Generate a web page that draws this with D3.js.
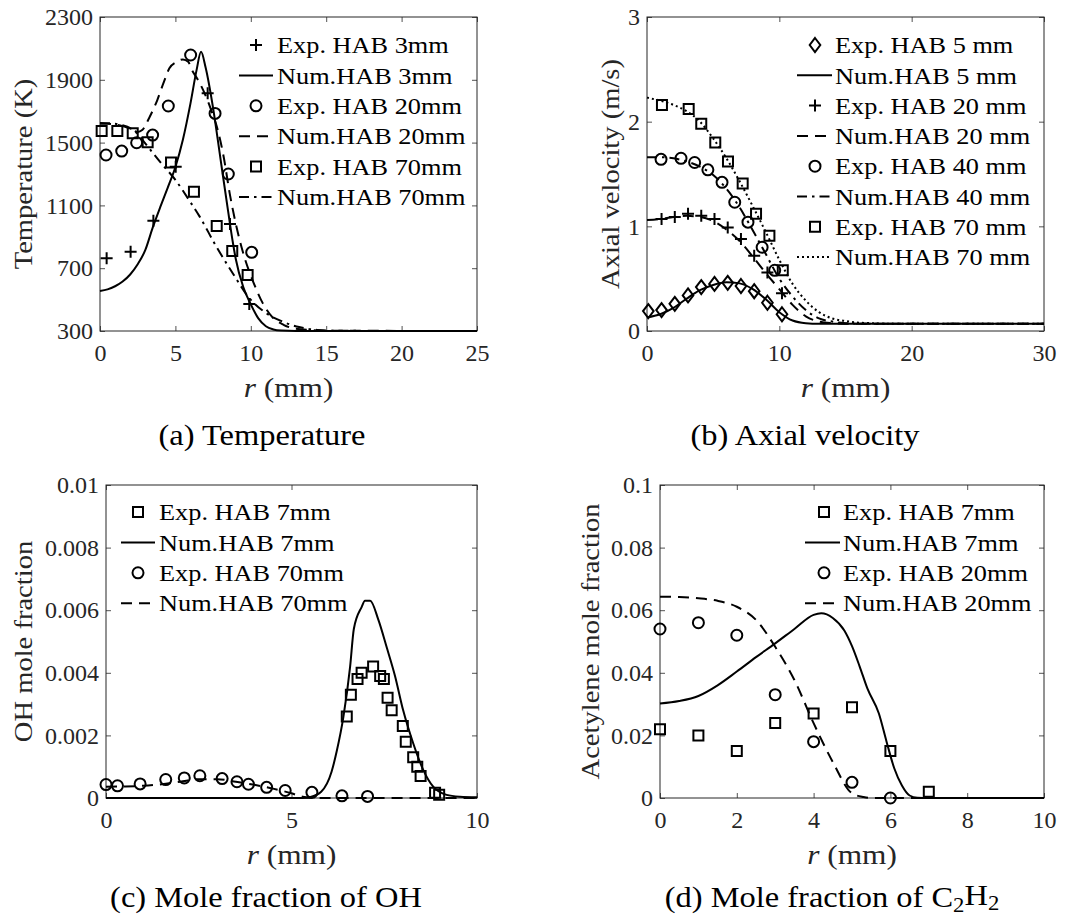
<!DOCTYPE html>
<html>
<head>
<meta charset="utf-8">
<script src="https://cdn.jsdelivr.net/npm/d3@7"></script>
<style>
  body { margin: 0; background: #fff; }
  svg { display: block; }
  text { font-family: "Liberation Serif", "Times New Roman", serif; }
</style>
</head>
<body>
<svg id="fig" width="1077" height="919"></svg>
<script>
// ---------- (a) temperature ----------
const tempExp3R = [0.44, 2.03, 3.54, 5.02, 7.14, 8.62, 9.9];
const tempExp3T = [763, 805, 1002, 1346, 1814, 981, 472];
const tempExp20R = [0.4, 1.44, 2.43, 3.49, 4.53, 6.01, 7.63, 8.51, 10.06];
const tempExp20T = [1421, 1446, 1499, 1548, 1733, 2058, 1686, 1300, 801];
const tempExp70R = [0.11, 1.15, 2.17, 3.16, 4.71, 6.23, 7.74, 8.77, 9.79];
const tempExp70T = [1574, 1574, 1559, 1502, 1374, 1187, 969, 810, 657];
const tempNum3R = [0, 0.5, 1, 1.5, 2, 2.5, 3, 3.5, 4, 4.5, 5, 5.5, 6, 6.4, 6.7, 7, 7.5, 8, 8.5, 8.8, 9, 9.5, 10, 10.5, 11, 11.5, 12, 13, 25];
const tempNum3T = [555, 565, 585, 615, 660, 725, 815, 960, 1090, 1215, 1345, 1520, 1750, 1960, 2078, 1980, 1720, 1390, 1060, 870, 760, 580, 470, 380, 330, 310, 303, 300, 300];
const tempNum20R = [0, 0.5, 1, 1.5, 2, 2.5, 2.8, 3.3, 3.8, 4.2, 4.6, 5.1, 5.5, 5.85, 6.1, 6.5, 7, 7.4, 7.75, 8.2, 8.6, 9.05, 9.5, 10.2, 10.8, 11.4, 12.2, 13.3, 15, 25];
const tempNum20T = [1620, 1620, 1615, 1605, 1588, 1568, 1580, 1665, 1771, 1877, 1973, 2015, 2030, 2015, 1962, 1899, 1800, 1700, 1601, 1410, 1177, 964, 795, 604, 476, 391, 338, 311, 302, 300];
const tempNum70R = [0, 0.5, 1, 1.5, 2, 2.5, 3, 4, 5, 6, 6.6, 7.7, 8.8, 9.9, 11, 12.1, 13.2, 14.4, 16, 25];
const tempNum70T = [1625, 1624, 1620, 1610, 1592, 1555, 1495, 1375, 1262, 1120, 1030, 840, 668, 510, 415, 360, 325, 307, 301, 300];
const tempXTicks = [0, 5, 10, 15, 20, 25];
const tempYTicks = [300, 700, 1100, 1500, 1900, 2300];
const tempLegend = ['Exp. HAB 3mm', 'Num.HAB 3mm', 'Exp. HAB 20mm', 'Num.HAB 20mm', 'Exp. HAB 70mm', 'Num.HAB 70mm'];

// ---------- (b) axial velocity ----------
const velExp5R = [0.1, 1.1, 2.1, 3.1, 4.1, 5.1, 6.1, 7.1, 8.1, 9.1, 10.2];
const velExp5V = [0.19, 0.20, 0.26, 0.34, 0.42, 0.45, 0.46, 0.43, 0.38, 0.27, 0.16];
const velExp20R = [1.1, 2.1, 3.1, 4.1, 5.1, 6.1, 7.1, 8.1, 9.1, 10.2];
const velExp20V = [1.07, 1.09, 1.12, 1.10, 1.07, 0.99, 0.88, 0.72, 0.56, 0.36];
const velExp40R = [1.06, 2.57, 3.6, 4.6, 5.67, 6.63, 7.63, 8.7, 9.65];
const velExp40V = [1.64, 1.65, 1.61, 1.54, 1.42, 1.23, 1.04, 0.80, 0.58];
const velExp70R = [1.13, 3.15, 4.1, 5.16, 6.12, 7.23, 8.24, 9.25, 10.26];
const velExp70V = [2.16, 2.12, 1.98, 1.80, 1.62, 1.41, 1.12, 0.91, 0.58];
const velNum5R = [0, 1, 2, 3, 4, 5, 6, 7, 8, 9, 10, 11, 12, 13, 30];
const velNum5V = [0.13, 0.16, 0.22, 0.31, 0.39, 0.44, 0.465, 0.455, 0.40, 0.30, 0.18, 0.10, 0.075, 0.07, 0.07];
const velNum20R = [0, 1, 2, 3, 4, 5, 6, 7, 8, 9, 10, 11, 12, 13, 14, 15, 30];
const velNum20V = [1.06, 1.07, 1.09, 1.10, 1.09, 1.05, 0.97, 0.86, 0.71, 0.55, 0.40, 0.25, 0.14, 0.09, 0.075, 0.07, 0.07];
const velNum40R = [0, 1, 2, 3, 4, 5, 6, 7, 8, 9, 10, 11, 12, 13, 14, 15, 16, 30];
const velNum40V = [1.66, 1.66, 1.65, 1.62, 1.57, 1.49, 1.36, 1.18, 0.96, 0.73, 0.50, 0.33, 0.20, 0.12, 0.09, 0.075, 0.07, 0.07];
const velNum70R = [0, 1, 2, 3, 4, 5, 6, 7, 8, 9, 10, 11, 12, 13, 14, 15, 16, 17, 18, 30];
const velNum70V = [2.23, 2.20, 2.16, 2.10, 2.00, 1.84, 1.65, 1.43, 1.19, 0.94, 0.68, 0.45, 0.29, 0.18, 0.12, 0.095, 0.08, 0.075, 0.07, 0.07];
const velXTicks = [0, 10, 20, 30];
const velYTicks = [0, 1, 2, 3];
const velLegend = ['Exp. HAB 5 mm', 'Num.HAB 5 mm', 'Exp. HAB 20 mm', 'Num.HAB 20 mm', 'Exp. HAB 40 mm', 'Num.HAB 40 mm', 'Exp. HAB 70 mm', 'Num.HAB 70 mm'];

// ---------- (c) OH ----------
const ohExp7R = [6.49, 6.6, 6.78, 6.89, 7.2, 7.39, 7.49, 7.59, 7.7, 8.0, 8.08, 8.28, 8.39, 8.48, 8.87, 8.98];
const ohExp7Y = [0.0026, 0.0033, 0.0038, 0.0040, 0.0042, 0.0039, 0.0038, 0.0032, 0.0028, 0.0023, 0.0018, 0.0013, 0.0010, 0.0007, 0.00017, 0.0001];
const ohExp70R = [0, 0.31, 0.92, 1.61, 2.11, 2.53, 3.13, 3.53, 3.84, 4.33, 4.83, 5.55, 6.36, 7.05];
const ohExp70Y = [0.00043, 0.00039, 0.00045, 0.00059, 0.00064, 0.00071, 0.00062, 0.00052, 0.00044, 0.00034, 0.00024, 0.00018, 0.00007, 0.00005];
const ohNum7R = [0, 5.3, 5.5, 5.8, 6.08, 6.22, 6.4, 6.58, 6.68, 6.89, 6.98, 7.12, 7.34, 7.57, 7.79, 8.01, 8.28, 8.55, 8.82, 9.18, 9.54, 10];
const ohNum7Y = [0, 0, 0.00003, 0.0002, 0.00084, 0.0015, 0.0026, 0.0042, 0.0054, 0.0061, 0.0063, 0.0063, 0.0057, 0.0048, 0.0039, 0.0028, 0.00175, 0.0009, 0.00036, 0.0001, 0.00004, 0.00002];
const ohNum70R = [0, 0.5, 1, 1.5, 2, 2.5, 3, 3.5, 4, 4.5, 5, 5.3, 5.6, 10];
const ohNum70Y = [0.00036, 0.00037, 0.00039, 0.00044, 0.00052, 0.0006, 0.0006, 0.00052, 0.00042, 0.0003, 0.00015, 0.00004, 0, 0];
const ohXTicks = [0, 5, 10];
const ohYTicks = [0, 0.002, 0.004, 0.006, 0.008, 0.01];
const ohLegend = ['Exp. HAB 7mm', 'Num.HAB 7mm', 'Exp. HAB 70mm', 'Num.HAB 70mm'];

// ---------- (d) acetylene ----------
const acExp7R = [0, 1, 2, 3, 4, 5, 6, 7];
const acExp7Y = [0.022, 0.020, 0.015, 0.024, 0.027, 0.029, 0.015, 0.002];
const acExp20R = [0, 1, 2, 3, 4, 5, 6];
const acExp20Y = [0.054, 0.056, 0.052, 0.033, 0.018, 0.005, 0.0];
const acNum7R = [0, 0.5, 1, 1.5, 2, 2.5, 3, 3.5, 4, 4.2, 4.5, 4.8, 5, 5.2, 5.4, 5.7, 5.9, 6.1, 6.3, 6.5, 6.7, 7, 10];
const acNum7Y = [0.0302, 0.031, 0.0326, 0.036, 0.0404, 0.045, 0.0494, 0.054, 0.0585, 0.059, 0.0575, 0.0535, 0.0485, 0.042, 0.035, 0.027, 0.018, 0.0095, 0.004, 0.0008, 0.0001, 0, 0];
const acNum20R = [0, 0.5, 1, 1.5, 2, 2.5, 3, 3.5, 4, 4.5, 5, 5.3, 5.5, 10];
const acNum20Y = [0.0643, 0.0642, 0.0638, 0.063, 0.0611, 0.0569, 0.0483, 0.0377, 0.0239, 0.0115, 0.0015, 0.0003, 0, 0];
const acXTicks = [0, 2, 4, 6, 8, 10];
const acYTicks = [0, 0.02, 0.04, 0.06, 0.08, 0.1];
const acLegend = ['Exp. HAB 7mm', 'Num.HAB 7mm', 'Exp. HAB 20mm', 'Num.HAB 20mm'];

// ---------- drawing ----------
const svg = d3.select('#fig');
const axisCol = '#262626';
const SX = 1.12; // widen Times glyphs toward Computer Modern proportions

const dashes = { solid: null, dashed: '11,7', dashdot: '10,5,2.5,5', dotted: '2,3' };

function markerPath(type) {
  switch (type) {
    case 'square': return 'M-5,-5h10v10h-10z';
    case 'plus': return 'M-6,0H6M0,-6V6';
    case 'diamond': return 'M0,-7L5.3,0L0,7L-5.3,0Z';
    default: return 'M-5.5,0a5.5,5.5 0 1,0 11,0a5.5,5.5 0 1,0 -11,0';
  }
}

function cmText(parent, x, y, size, anchor, rot) {
  return parent.append('g')
    .attr('transform', `translate(${x},${y})${rot ? ' rotate(-90)' : ''} scale(${SX},1)`)
    .append('text')
    .attr('text-anchor', anchor)
    .attr('dy', '0.35em')
    .attr('font-size', size);
}

function panel(o) {
  const x = d3.scaleLinear().domain(o.xd).range([o.l, o.r]);
  const y = d3.scaleLinear().domain(o.yd).range([o.b, o.t]);
  const g = svg.append('g');
  const fmt = d => String(d);

  const style = s => s.style('color', axisCol)
    .attr('font-size', 24)
    .attr('font-family', '"Liberation Serif", "Times New Roman", serif')
    .call(s => s.select('.domain').remove());

  g.append('g').attr('transform', `translate(0,${o.b})`)
    .call(d3.axisBottom(x).tickValues(o.xt).tickFormat(fmt).tickSizeInner(-5).tickSizeOuter(0).tickPadding(13))
    .call(style);
  g.append('g').attr('transform', `translate(0,${o.t})`)
    .call(d3.axisTop(x).tickValues(o.xt).tickFormat('').tickSizeInner(-5).tickSizeOuter(0))
    .call(style);
  g.append('g').attr('transform', `translate(${o.l},0)`)
    .call(d3.axisLeft(y).tickValues(o.yt).tickFormat(fmt).tickSizeInner(-5).tickSizeOuter(0).tickPadding(7))
    .call(style);
  g.append('g').attr('transform', `translate(${o.r},0)`)
    .call(d3.axisRight(y).tickValues(o.yt).tickFormat('').tickSizeInner(-5).tickSizeOuter(0))
    .call(style);
  g.selectAll('.tick line').attr('stroke-width', 0.8);

  g.append('rect')
    .attr('x', o.l).attr('y', o.t)
    .attr('width', o.r - o.l).attr('height', o.b - o.t)
    .attr('fill', 'none').attr('stroke', axisCol).attr('stroke-width', 1);

  // series
  const line = d3.line().x(d => x(d[0])).y(d => y(d[1])).curve(d3.curveMonotoneX);
  o.lines.forEach(s => {
    g.append('path').datum(d3.zip(s.r, s.v))
      .attr('d', line)
      .attr('fill', 'none').attr('stroke', '#000').attr('stroke-width', 2)
      .attr('stroke-dasharray', dashes[s.style]);
  });
  o.points.forEach(s => {
    g.append('g').selectAll('path').data(d3.zip(s.r, s.v)).join('path')
      .attr('transform', d => `translate(${x(d[0])},${y(d[1])})`)
      .attr('d', markerPath(s.marker))
      .attr('fill', 'none').attr('stroke', '#000').attr('stroke-width', 2);
  });

  // legend
  const L = o.legend;
  L.labels.forEach((lab, i) => {
    const yy = L.y0 + i * L.dy;
    const e = L.entries[i];
    if (e.marker) {
      g.append('path').attr('transform', `translate(${L.mx},${yy})`)
        .attr('d', markerPath(e.marker))
        .attr('fill', 'none').attr('stroke', '#000').attr('stroke-width', 2);
    } else {
      g.append('line').attr('x1', L.lx0).attr('x2', L.lx1).attr('y1', yy).attr('y2', yy)
        .attr('stroke', '#000').attr('stroke-width', 2)
        .attr('stroke-dasharray', dashes[e.style]);
    }
    cmText(g, L.tx, yy, 23.5, 'start').attr('fill', '#000').text(lab);
  });

  // axis labels
  cmText(g, o.ylx, (o.t + o.b) / 2, 25.5, 'middle', true).attr('fill', axisCol).text(o.ylabel);
  const xl = cmText(g, (o.l + o.r) / 2, o.b + 56, 28, 'middle').attr('fill', axisCol);
  xl.append('tspan').attr('font-style', 'italic').text('r');
  xl.append('tspan').text(' (mm)');
  return g;
}

const entA = [{ marker: 'plus' }, { style: 'solid' }, { marker: 'circle' }, { style: 'dashed' }, { marker: 'square' }, { style: 'dashdot' }];
panel({
  l: 100, r: 477, t: 17, b: 331, xd: [0, 25], yd: [300, 2300], xt: tempXTicks, yt: tempYTicks,
  ylabel: 'Temperature (K)', ylx: 23,
  lines: [
    { r: tempNum3R, v: tempNum3T, style: 'solid' },
    { r: tempNum20R, v: tempNum20T, style: 'dashed' },
    { r: tempNum70R, v: tempNum70T, style: 'dashdot' }
  ],
  points: [
    { r: tempExp3R, v: tempExp3T, marker: 'plus' },
    { r: tempExp20R, v: tempExp20T, marker: 'circle' },
    { r: tempExp70R, v: tempExp70T, marker: 'square' }
  ],
  legend: { labels: tempLegend, entries: entA, mx: 256, lx0: 239, lx1: 273, tx: 277, y0: 45, dy: 30.4 }
});

const entB = [{ marker: 'diamond' }, { style: 'solid' }, { marker: 'plus' }, { style: 'dashed' }, { marker: 'circle' }, { style: 'dashdot' }, { marker: 'square' }, { style: 'dotted' }];
panel({
  l: 647, r: 1044, t: 17, b: 331, xd: [0, 30], yd: [0, 3], xt: velXTicks, yt: velYTicks,
  ylabel: 'Axial velocity (m/s)', ylx: 610,
  lines: [
    { r: velNum5R, v: velNum5V, style: 'solid' },
    { r: velNum20R, v: velNum20V, style: 'dashed' },
    { r: velNum40R, v: velNum40V, style: 'dashdot' },
    { r: velNum70R, v: velNum70V, style: 'dotted' }
  ],
  points: [
    { r: velExp5R, v: velExp5V, marker: 'diamond' },
    { r: velExp20R, v: velExp20V, marker: 'plus' },
    { r: velExp40R, v: velExp40V, marker: 'circle' },
    { r: velExp70R, v: velExp70V, marker: 'square' }
  ],
  legend: { labels: velLegend, entries: entB, mx: 815, lx0: 797, lx1: 832, tx: 835, y0: 45, dy: 30.3 }
});

const entC = [{ marker: 'square' }, { style: 'solid' }, { marker: 'circle' }, { style: 'dashed' }];
panel({
  l: 106, r: 477, t: 485, b: 798, xd: [0, 10], yd: [0, 0.01], xt: ohXTicks, yt: ohYTicks,
  ylabel: 'OH mole fraction', ylx: 23,
  lines: [
    { r: ohNum7R, v: ohNum7Y, style: 'solid' },
    { r: ohNum70R, v: ohNum70Y, style: 'dashed' }
  ],
  points: [
    { r: ohExp7R, v: ohExp7Y, marker: 'square' },
    { r: ohExp70R, v: ohExp70Y, marker: 'circle' }
  ],
  legend: { labels: ohLegend, entries: entC, mx: 138, lx0: 121, lx1: 155, tx: 159, y0: 512, dy: 30.4 }
});

panel({
  l: 660, r: 1044, t: 485, b: 798, xd: [0, 10], yd: [0, 0.1], xt: acXTicks, yt: acYTicks,
  ylabel: 'Acetylene mole fraction', ylx: 590,
  lines: [
    { r: acNum7R, v: acNum7Y, style: 'solid' },
    { r: acNum20R, v: acNum20Y, style: 'dashed' }
  ],
  points: [
    { r: acExp7R, v: acExp7Y, marker: 'square' },
    { r: acExp20R, v: acExp20Y, marker: 'circle' }
  ],
  legend: { labels: acLegend, entries: entC, mx: 824, lx0: 805, lx1: 840, tx: 843, y0: 512, dy: 30.4 }
});

// captions
cmText(svg, 262, 435, 29, 'middle').attr('fill', '#000').text('(a) Temperature');
cmText(svg, 805, 435, 29, 'middle').attr('fill', '#000').text('(b) Axial velocity');
cmText(svg, 266, 897, 29, 'middle').attr('fill', '#000').text('(c) Mole fraction of OH');
const capD = cmText(svg, 832, 897, 29, 'middle').attr('fill', '#000');
capD.append('tspan').text('(d) Mole fraction of C');
capD.append('tspan').attr('font-size', '0.7em').attr('dy', '0.25em').text('2');
capD.append('tspan').attr('dy', '-0.25em').text('H');
capD.append('tspan').attr('font-size', '0.7em').attr('dy', '0.25em').text('2');
</script>
</body>
</html>
